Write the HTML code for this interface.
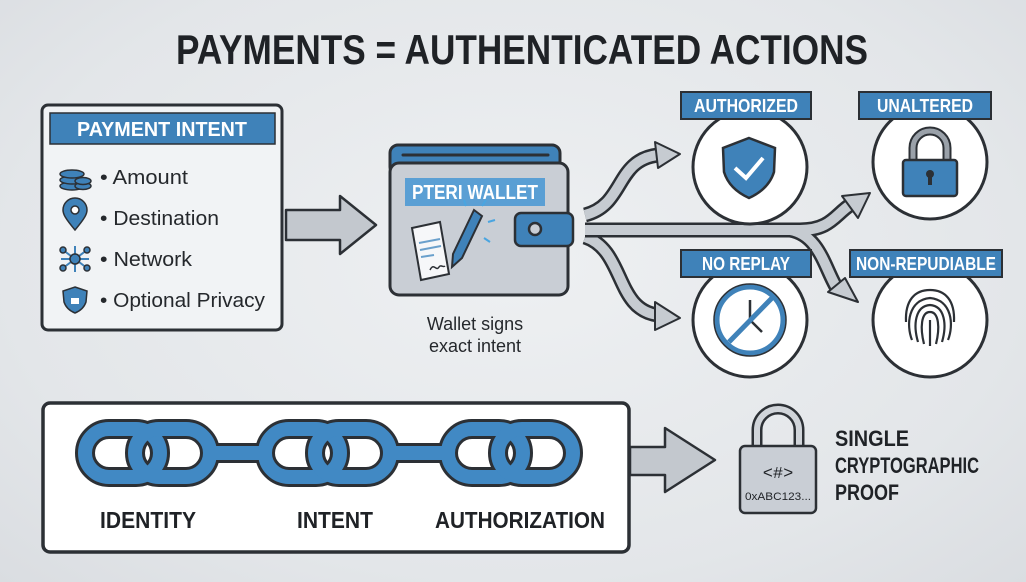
<!DOCTYPE html>
<html><head><style>
html,body{margin:0;padding:0;}
body{width:1026px;height:582px;overflow:hidden;background:radial-gradient(ellipse at 50% 45%,#eef0f2 0%,#e3e6e9 70%,#dadde1 100%);font-family:"Liberation Sans",sans-serif;}
svg{display:block}
</style></head><body>
<svg width="1026" height="582" viewBox="0 0 1026 582" xmlns="http://www.w3.org/2000/svg" font-family="Liberation Sans, sans-serif">
<!-- Title -->
<text x="522" y="64" text-anchor="middle" font-size="42" font-weight="bold" fill="#1f2226" textLength="692" lengthAdjust="spacingAndGlyphs">PAYMENTS = AUTHENTICATED ACTIONS</text>

<!-- Payment intent box -->
<rect x="42" y="105" width="240" height="225" rx="6" fill="#f1f3f5" stroke="#2c3035" stroke-width="3"/>
<rect x="50" y="113" width="225" height="31" fill="#3f82b9" stroke="#2c3035" stroke-width="1.5"/>
<text x="162" y="136" text-anchor="middle" font-size="20" font-weight="bold" fill="#fff" textLength="170" lengthAdjust="spacingAndGlyphs">PAYMENT INTENT</text>
<g stroke="#2c3035" stroke-width="1.5" fill="#3f82b9">
<ellipse cx="72" cy="186" rx="12" ry="4"/><ellipse cx="72" cy="180" rx="12" ry="4"/><ellipse cx="72" cy="174" rx="12" ry="4"/>
<ellipse cx="83" cy="186" rx="8" ry="3.5"/><ellipse cx="83" cy="181" rx="8" ry="3.5"/>
<path d="M75 230 C65 218 63 214 63 210 A12 12 0 0 1 87 210 C87 214 85 218 75 230Z"/><circle cx="75" cy="210" r="4" fill="#fff"/>
<g stroke="#3f82b9" stroke-width="2"><line x1="63" y1="250" x2="87" y2="268"/><line x1="87" y1="250" x2="63" y2="268"/><line x1="75" y1="246" x2="75" y2="272"/><line x1="61" y1="259" x2="89" y2="259"/></g>
<circle cx="75" cy="259" r="5"/><circle cx="63" cy="250" r="3"/><circle cx="87" cy="250" r="3"/><circle cx="63" cy="268" r="3"/><circle cx="87" cy="268" r="3"/>
<path d="M75 287 L87 291 L86 302 C84 308 80 311 75 313 C70 311 66 308 64 302 L63 291Z"/>
<rect x="71" y="298" width="8" height="6" fill="#fff" stroke="none"/>
</g>
<g font-size="20" fill="#25282c">
<text x="100" y="184" textLength="88" lengthAdjust="spacingAndGlyphs">• Amount</text>
<text x="100" y="225" textLength="119" lengthAdjust="spacingAndGlyphs">• Destination</text>
<text x="100" y="266" textLength="92" lengthAdjust="spacingAndGlyphs">• Network</text>
<text x="100" y="307" textLength="165" lengthAdjust="spacingAndGlyphs">• Optional Privacy</text>
</g>

<path d="M286 210 L340 210 L340 196 L376 225 L340 254 L340 240 L286 240Z" fill="#c3c8ce" stroke="#2c3035" stroke-width="2.5" stroke-linejoin="round"/>

<!-- Wallet -->
<rect x="390" y="145" width="170" height="30" rx="8" fill="#3f82b9" stroke="#2c3035" stroke-width="3"/>
<line x1="403" y1="155" x2="548" y2="155" stroke="#2c3035" stroke-width="3" stroke-linecap="round"/>
<rect x="390" y="163" width="178" height="132" rx="9" fill="#c9ced5" stroke="#2c3035" stroke-width="3"/>
<rect x="405" y="178" width="140" height="28" fill="#5a9fd4"/>
<text x="475" y="199" text-anchor="middle" font-size="20" font-weight="bold" fill="#fff" textLength="126" lengthAdjust="spacingAndGlyphs">PTERI WALLET</text>
<rect x="515" y="213" width="58" height="33" rx="6" fill="#3f82b9" stroke="#2c3035" stroke-width="2.5"/>
<circle cx="535" cy="229" r="6" fill="#c9ced5" stroke="#2c3035" stroke-width="2.5"/>
<path d="M412 228 L440 222 L449 274 L421 280Z" fill="#f6f7f9" stroke="#2c3035" stroke-width="2"/>
<path d="M419 243 L440 239 M420 250 L441 246 M421 257 L434 255" stroke="#6aa0cc" stroke-width="2"/>
<path d="M430 270 c4 -8 6 2 9 -3 c2 -3 4 1 6 -1" stroke="#2c3035" stroke-width="1.5" fill="none"/>
<path d="M474 210 L482 216 L462 258 L452 267 L453 254Z" fill="#3f82b9" stroke="#2c3035" stroke-width="2"/>
<g stroke="#4aa5e0" stroke-width="2"><line x1="482" y1="206" x2="486" y2="200"/><line x1="488" y1="222" x2="495" y2="220"/><line x1="466" y1="206" x2="464" y2="200"/><line x1="484" y1="238" x2="490" y2="242"/></g>
<text x="475" y="330" text-anchor="middle" font-size="18" fill="#25282c">Wallet signs</text>
<text x="475" y="352" text-anchor="middle" font-size="18" fill="#25282c">exact intent</text>

<!-- curved arrows -->
<g fill="none">
<path d="M585 215 C625 205 615 160 658 155" stroke="#2c3035" stroke-width="15"/>
<path d="M585 215 C625 205 615 160 658 155" stroke="#c6cbd1" stroke-width="10"/>
<path d="M585 237 C625 250 615 310 658 315" stroke="#2c3035" stroke-width="15"/>
<path d="M585 237 C625 250 615 310 658 315" stroke="#c6cbd1" stroke-width="10"/>
<path d="M585 230 L800 230 C830 230 835 215 850 205" stroke="#2c3035" stroke-width="15"/>
<path d="M790 230 C820 235 825 270 838 290" stroke="#2c3035" stroke-width="15"/>
<path d="M585 230 L800 230 C830 230 835 215 850 205" stroke="#c6cbd1" stroke-width="10"/>
<path d="M790 230 C820 235 825 270 838 290" stroke="#c6cbd1" stroke-width="10"/>
</g>
<g fill="#c6cbd1" stroke="#2c3035" stroke-width="2" stroke-linejoin="round">
<path d="M655 142 L680 154 L658 168Z"/>
<path d="M655 302 L680 318 L655 330Z"/>
<path d="M842 196 L870 193 L858 218Z"/>
<path d="M828 292 L858 302 L845 278Z"/>
</g>

<!-- Badges -->
<g stroke="#2c3035" stroke-width="3">
<circle cx="750" cy="167" r="57" fill="#fff"/>
<circle cx="930" cy="162" r="57" fill="#fff"/>
<circle cx="750" cy="320" r="57" fill="#fff"/>
<circle cx="930" cy="320" r="57" fill="#fff"/>
</g>
<g fill="#3f82b9" stroke="#2c3035" stroke-width="2">
<rect x="681" y="92" width="130" height="27"/>
<rect x="859" y="92" width="132" height="27"/>
<rect x="681" y="250" width="130" height="27"/>
<rect x="850" y="250" width="152" height="27"/>
</g>
<g font-size="18" font-weight="bold" fill="#fff" text-anchor="middle">
<text x="746" y="112" textLength="104" lengthAdjust="spacingAndGlyphs">AUTHORIZED</text>
<text x="925" y="112" textLength="96" lengthAdjust="spacingAndGlyphs">UNALTERED</text>
<text x="746" y="270" textLength="88" lengthAdjust="spacingAndGlyphs">NO REPLAY</text>
<text x="926" y="270" textLength="140" lengthAdjust="spacingAndGlyphs">NON-REPUDIABLE</text>
</g>
<path d="M749 138 L775 148 L774 172 C770 185 760 193 749 198 C738 193 728 185 724 172 L723 148Z" fill="#3f82b9" stroke="#2c3035" stroke-width="2.5"/>
<path d="M735 168 L746 178 L763 158" fill="none" stroke="#fff" stroke-width="4"/>
<path d="M913 163 L913 148 A17 17 0 0 1 947 148 L947 163" fill="none" stroke="#2c3035" stroke-width="9"/>
<path d="M913 163 L913 148 A17 17 0 0 1 947 148 L947 163" fill="none" stroke="#9aa1a9" stroke-width="5"/>
<rect x="903" y="160" width="54" height="36" rx="3" fill="#3f82b9" stroke="#2c3035" stroke-width="2.5"/>
<circle cx="930" cy="174" r="4" fill="#2c3035"/><rect x="928" y="176" width="4" height="9" fill="#2c3035"/>
<circle cx="750" cy="320" r="33" fill="#fff" stroke="#3f82b9" stroke-width="5"/>
<circle cx="750" cy="320" r="36" fill="none" stroke="#2c3035" stroke-width="1.5"/>
<path d="M750 300 L750 320 L762 332" stroke="#2c3035" stroke-width="2.5" fill="none"/>
<line x1="729" y1="342" x2="772" y2="298" stroke="#3f82b9" stroke-width="5"/>
<g fill="none" stroke="#2c3035" stroke-width="2.2">
<path d="M912 340 C906 325 908 300 930 298 C952 300 954 325 948 340"/>
<path d="M918 342 C913 325 915 306 930 305 C945 306 947 325 942 342"/>
<path d="M924 344 C920 328 921 312 930 312 C939 312 940 328 936 344"/>
<path d="M930 320 L930 346"/>
<path d="M906 322 C905 300 915 290 930 290 C945 290 955 300 954 322"/>
</g>

<!-- Bottom box -->
<rect x="43" y="403" width="586" height="149" rx="7" fill="#fff" stroke="#2c3035" stroke-width="3.5"/>
<g fill="none">
<g stroke="#2c3035" stroke-width="20">
<rect x="85" y="429" width="75" height="48" rx="24"/><rect x="135" y="429" width="75" height="48" rx="24"/>
<rect x="265" y="429" width="75" height="48" rx="24"/><rect x="315" y="429" width="75" height="48" rx="24"/>
<rect x="448" y="429" width="75" height="48" rx="24"/><rect x="498" y="429" width="75" height="48" rx="24"/>
<line x1="205" y1="453" x2="270" y2="453"/><line x1="385" y1="453" x2="453" y2="453"/>
</g>
<g stroke="#4189c4" stroke-width="14">
<rect x="85" y="429" width="75" height="48" rx="24"/><rect x="135" y="429" width="75" height="48" rx="24"/>
<rect x="265" y="429" width="75" height="48" rx="24"/><rect x="315" y="429" width="75" height="48" rx="24"/>
<rect x="448" y="429" width="75" height="48" rx="24"/><rect x="498" y="429" width="75" height="48" rx="24"/>
<line x1="205" y1="453" x2="270" y2="453"/><line x1="385" y1="453" x2="453" y2="453"/>
</g>
</g>
<g font-size="23" font-weight="bold" fill="#1f2226" text-anchor="middle">
<text x="148" y="528" textLength="96" lengthAdjust="spacingAndGlyphs">IDENTITY</text>
<text x="335" y="528" textLength="76" lengthAdjust="spacingAndGlyphs">INTENT</text>
<text x="520" y="528" textLength="170" lengthAdjust="spacingAndGlyphs">AUTHORIZATION</text>
</g>
<path d="M630 447 L665 447 L665 428 L715 460 L665 492 L665 475 L630 475Z" fill="#c3c8ce" stroke="#2c3035" stroke-width="2.5" stroke-linejoin="round"/>
<path d="M757 452 L757 430 A21 21 0 0 1 799 430 L799 452" fill="none" stroke="#2c3035" stroke-width="11"/>
<path d="M757 452 L757 430 A21 21 0 0 1 799 430 L799 452" fill="none" stroke="#d0d4d9" stroke-width="6"/>
<rect x="740" y="446" width="76" height="67" rx="5" fill="#c9ced5" stroke="#2c3035" stroke-width="2.5"/>
<text x="778" y="478" text-anchor="middle" font-size="17" font-family="Liberation Mono, monospace" fill="#1f2226">&lt;#&gt;</text>
<text x="778" y="500" text-anchor="middle" font-size="11" fill="#1f2226" textLength="66" lengthAdjust="spacingAndGlyphs">0xABC123...</text>
<g font-size="22" font-weight="bold" fill="#1f2226">
<text x="835" y="446" textLength="74" lengthAdjust="spacingAndGlyphs">SINGLE</text>
<text x="835" y="473" textLength="144" lengthAdjust="spacingAndGlyphs">CRYPTOGRAPHIC</text>
<text x="835" y="500" textLength="64" lengthAdjust="spacingAndGlyphs">PROOF</text>
</g>
</svg>
</body></html>
